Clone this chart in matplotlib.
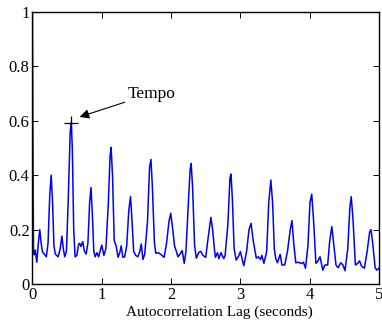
import matplotlib
matplotlib.use("Agg")
import matplotlib.pyplot as plt

# autocorrelation curve (lag in seconds, value)
lag = [0.000, 0.008, 0.015, 0.025, 0.040, 0.062, 0.085, 0.105, 0.125, 0.145,
       0.165, 0.200, 0.225, 0.250, 0.270, 0.290, 0.310, 0.330, 0.370, 0.400,
       0.425, 0.445, 0.465, 0.490, 0.515, 0.545, 0.560, 0.575, 0.595, 0.615,
       0.640, 0.665, 0.680, 0.700, 0.725, 0.750, 0.775, 0.800, 0.825, 0.845,
       0.865, 0.885, 0.905, 0.930, 0.955, 0.975, 1.000, 1.030, 1.060, 1.095,
       1.120, 1.135, 1.155, 1.180, 1.210, 1.235, 1.260, 1.280, 1.305, 1.330,
       1.360, 1.390, 1.415, 1.435, 1.460, 1.490, 1.520, 1.550, 1.570, 1.594,
       1.620, 1.660, 1.690, 1.710, 1.730, 1.760, 1.780, 1.820, 1.860, 1.900,
       1.935, 1.970, 1.995, 2.020, 2.050, 2.070, 2.100, 2.130, 2.160, 2.190,
       2.215, 2.250, 2.275, 2.290, 2.310, 2.340, 2.365, 2.400, 2.430, 2.460,
       2.500, 2.530, 2.575, 2.600, 2.625, 2.640, 2.670, 2.690, 2.720, 2.760,
       2.780, 2.820, 2.850, 2.865, 2.885, 2.910, 2.940, 2.970, 3.000, 3.050,
       3.090, 3.125, 3.155, 3.185, 3.230, 3.260, 3.290, 3.310, 3.340, 3.380,
       3.410, 3.440, 3.465, 3.490, 3.510, 3.535, 3.575, 3.600, 3.640, 3.680,
       3.720, 3.745, 3.770, 3.800, 3.840, 3.880, 3.910, 3.940, 3.975, 4.005,
       4.030, 4.055, 4.090, 4.120, 4.150, 4.190, 4.220, 4.260, 4.290, 4.320,
       4.350, 4.380, 4.410, 4.450, 4.480, 4.510, 4.550, 4.580, 4.600, 4.625,
       4.660, 4.690, 4.720, 4.750, 4.790, 4.830, 4.865, 4.885, 4.910, 4.945,
       4.970, 5.000]
acf = [1.000, 0.450, 0.120, 0.107, 0.125, 0.080, 0.150, 0.200, 0.150, 0.118,
       0.112, 0.100, 0.150, 0.330, 0.400, 0.300, 0.140, 0.110, 0.100, 0.130,
       0.176, 0.130, 0.100, 0.120, 0.300, 0.560, 0.593, 0.500, 0.200, 0.100,
       0.105, 0.145, 0.150, 0.138, 0.156, 0.120, 0.110, 0.150, 0.300, 0.355,
       0.250, 0.120, 0.100, 0.115, 0.100, 0.120, 0.143, 0.105, 0.130, 0.300,
       0.470, 0.502, 0.400, 0.160, 0.137, 0.098, 0.115, 0.140, 0.098, 0.100,
       0.140, 0.270, 0.321, 0.240, 0.120, 0.105, 0.100, 0.120, 0.147, 0.090,
       0.110, 0.230, 0.430, 0.458, 0.360, 0.150, 0.113, 0.115, 0.107, 0.098,
       0.150, 0.230, 0.260, 0.210, 0.140, 0.125, 0.100, 0.110, 0.123, 0.076,
       0.120, 0.300, 0.420, 0.443, 0.360, 0.140, 0.095, 0.116, 0.120, 0.105,
       0.098, 0.160, 0.245, 0.200, 0.130, 0.098, 0.115, 0.093, 0.115, 0.093,
       0.105, 0.220, 0.390, 0.404, 0.310, 0.130, 0.088, 0.100, 0.119, 0.067,
       0.120, 0.200, 0.223, 0.160, 0.095, 0.100, 0.090, 0.105, 0.076, 0.120,
       0.300, 0.382, 0.300, 0.130, 0.094, 0.078, 0.109, 0.070, 0.070, 0.120,
       0.200, 0.233, 0.150, 0.078, 0.080, 0.075, 0.080, 0.058, 0.140, 0.300,
       0.330, 0.240, 0.076, 0.085, 0.100, 0.051, 0.070, 0.070, 0.160, 0.211,
       0.140, 0.070, 0.060, 0.078, 0.070, 0.049, 0.130, 0.280, 0.321, 0.240,
       0.070, 0.075, 0.085, 0.065, 0.058, 0.120, 0.190, 0.200, 0.150, 0.060,
       0.051, 0.058]

tempo_lag = 0.56
tempo_val = 0.593

plt.rcParams['font.family'] = ['Liberation Serif', 'DejaVu Serif']
plt.rcParams['font.size'] = 12

fig = plt.figure(figsize=(3.82, 3.22), dpi=100)
ax = fig.add_axes([0.085, 0.118, 0.907, 0.845])
ax.plot(lag, acf, color='blue', lw=1.1)
ax.plot([tempo_lag], [tempo_val], marker='+', color='black', ms=10, mew=0.9)
ax.annotate('Tempo', xy=(0.68, 0.614), xytext=(1.37, 0.70),
            fontsize=12.5, va='center', ha='left',
            arrowprops=dict(arrowstyle='-|>', color='black', lw=0.8,
                            mutation_scale=14, shrinkA=0, shrinkB=0))

ax.set_xlim(0, 5)
ax.set_ylim(0, 1)
ax.set_xticks([0, 1, 2, 3, 4, 5])
ax.set_yticks([0, 0.2, 0.4, 0.6, 0.8, 1])
ax.set_yticklabels(['0', '0.2', '0.4', '0.6', '0.8', '1'])
ax.tick_params(direction='in', top=True, right=True, length=4, width=0.7, pad=2)
ax.set_xlabel('Autocorrelation Lag (seconds)', fontsize=11)
ax.xaxis.set_label_coords(0.54, -0.078)
for s in ax.spines.values():
    s.set_linewidth(1.0)

fig.savefig('out.png', dpi=100)
